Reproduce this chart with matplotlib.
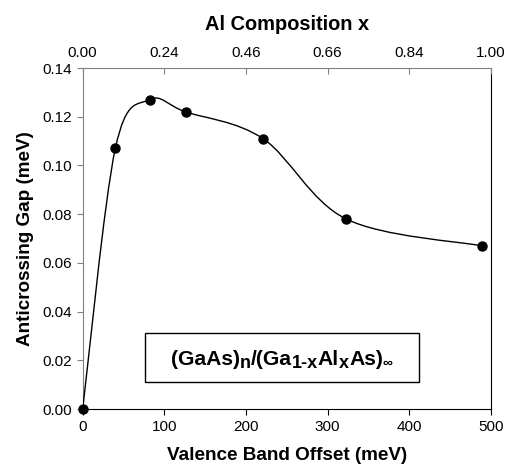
import numpy as np
import matplotlib
matplotlib.use("Agg")
import matplotlib.pyplot as plt
from matplotlib.path import Path
from matplotlib.patches import PathPatch, Rectangle
from matplotlib.transforms import offset_copy

plt.rcParams["font.family"] = ["Liberation Sans", "DejaVu Sans"]

# data
vbo = [0, 40, 82, 126, 221, 323, 489]          # valence band offset (meV)
gap = [0.000, 0.107, 0.127, 0.122, 0.111, 0.078, 0.067]  # anticrossing gap (meV)
top_ticks = [0, 100, 200, 300, 400, 500]
top_labels = ["0.00", "0.24", "0.46", "0.66", "0.84", "1.00"]
# label pieces: (text, is_subscript)
formula = [("(GaAs)", False), ("n", True), ("/(Ga", False), ("1-x", True),
           ("Al", False), ("x", True), ("As)", False), ("\u221e", True)]

fig = plt.figure(figsize=(5.06, 4.71), dpi=100)
ax = fig.add_axes([0.1634, 0.1316, 0.8064, 0.724])

# smoothed line (Excel-style catmull-rom bezier through the points)
pts = np.column_stack([np.array(vbo, float), np.array(gap, float)])
verts = [pts[0]]; codes = [Path.MOVETO]
n = len(pts)
for i in range(n - 1):
    p0 = pts[max(i - 1, 0)]; p1 = pts[i]; p2 = pts[i + 1]; p3 = pts[min(i + 2, n - 1)]
    verts += [p1 + (p2 - p0) / 6.0, p2 - (p3 - p1) / 6.0, p2]
    codes += [Path.CURVE4] * 3
ax.add_patch(PathPatch(Path(verts, codes), fill=False, lw=1.0, color="black", zorder=3))
ax.plot(vbo, gap, "o", color="black", ms=6.5, zorder=4, clip_on=False)

ax.set_xlim(0, 500); ax.set_ylim(0, 0.14)
ax.set_xticks(top_ticks)
ax.set_yticks(np.arange(0, 0.141, 0.02))
ax.yaxis.set_major_formatter(matplotlib.ticker.FormatStrFormatter("%.2f"))
ax.tick_params(axis="both", labelsize=11, length=4, direction="out", color="gray")
ax.tick_params(axis="x", color="black", pad=4)
for s in ["left", "top"]:
    ax.spines[s].set_color("gray")
ax.spines["bottom"].set_color("black"); ax.spines["right"].set_color("black")

ax.set_xlabel("Valence Band Offset (meV)", fontsize=13.6, fontweight="bold", labelpad=9)
ax.set_ylabel("Anticrossing Gap (meV)", fontsize=13.6, fontweight="bold", labelpad=6)

ax2 = ax.twiny()
ax2.set_xlim(0, 500)
ax2.set_xticks(top_ticks)
ax2.set_xticklabels(top_labels)
ax2.tick_params(axis="x", labelsize=11, length=4, direction="in", color="gray", pad=6)
for s in ax2.spines.values():
    s.set_visible(False)
ax2.set_xlabel("Al Composition x", fontsize=14.4, fontweight="bold", labelpad=11)

ax.add_patch(Rectangle((76, 0.0111), 336, 0.0200, fill=False, lw=1.0, edgecolor="black", zorder=5))

# formula with near-full-size subscripts, laid out piece by piece
r = fig.canvas.get_renderer()
def piece_size(s, sub):
    if s == "\u221e":
        return 10
    return 13 if sub else 15.2
widths = []
for s, sub in formula:
    t = fig.text(0, 0, s, fontsize=piece_size(s, sub), fontweight="bold")
    widths.append(t.get_window_extent(r).width)
    t.remove()
dx = -sum(widths) / 2
for (s, sub), w in zip(formula, widths):
    tr = offset_copy(ax.transData, fig=fig, x=dx, y=-4 if sub else 0, units="dots")
    ax.text(244, 0.0205, s, transform=tr, ha="left", va="center",
            fontsize=piece_size(s, sub), fontweight="bold")
    dx += w

fig.savefig("out.png", dpi=100)
